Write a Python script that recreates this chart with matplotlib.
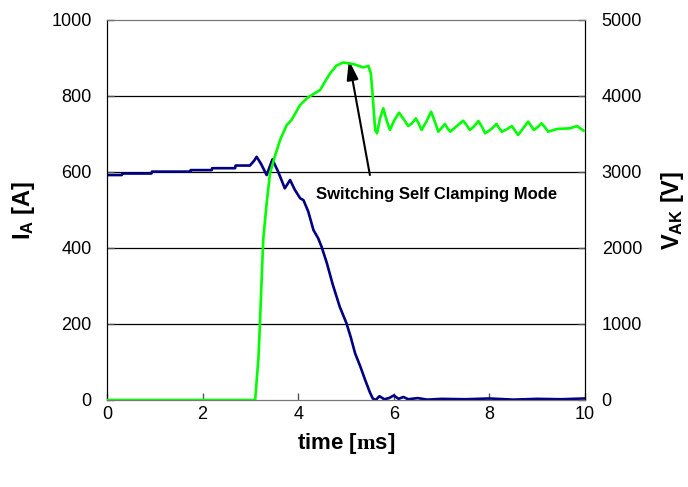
import matplotlib
matplotlib.use("Agg")
import matplotlib.pyplot as plt
import numpy as np

plt.rcParams['font.family'] = ['Liberation Sans', 'DejaVu Sans']
plt.rcParams['mathtext.fontset'] = 'custom'
plt.rcParams['mathtext.bf'] = 'Liberation Sans:bold'
plt.rcParams['mathtext.rm'] = 'Liberation Serif:bold'
plt.rcParams['mathtext.it'] = 'Liberation Sans:italic'

# Anode current I_A [A] (left axis)
t_i = [0.0, 0.31, 0.32, 0.93, 0.94, 1.74, 1.75, 2.19, 2.20, 2.68, 2.69, 2.99,
       3.08, 3.13, 3.22, 3.34, 3.46, 3.58, 3.72, 3.83, 3.93, 4.04, 4.11, 4.21,
       4.32, 4.42, 4.49, 4.60, 4.72, 4.87, 5.01, 5.10, 5.19, 5.30, 5.40, 5.50,
       5.56, 5.62, 5.70, 5.80, 5.90, 6.00, 6.10, 6.20, 6.30, 6.50, 6.70, 7.00,
       7.50, 8.00, 8.50, 9.00, 9.50, 10.0]
i_a = [592, 592, 596, 596, 601, 601, 605, 605, 610, 610, 617, 617,
       630, 640, 622, 592, 633, 601, 557, 579, 553, 531, 526, 496,
       447, 425, 403, 360, 305, 245, 202, 165, 123, 88, 53, 20,
       4, 0, 10, 2, 5, 12, 3, 8, 2, 5, 1, 3,
       2, 4, 1, 3, 2, 4]

# Anode-cathode voltage V_AK [V] (right axis)
t_v = [0.0, 3.10, 3.17, 3.20, 3.24, 3.27, 3.34, 3.41, 3.51, 3.62, 3.76, 3.86,
       4.04, 4.20, 4.46, 4.57, 4.67, 4.80, 4.94, 5.05, 5.15, 5.25, 5.36, 5.47,
       5.52, 5.56, 5.61, 5.65, 5.71, 5.78, 5.85, 5.92, 6.01, 6.11, 6.20, 6.30,
       6.38, 6.46, 6.52, 6.58, 6.68, 6.78, 6.86, 6.93, 7.00, 7.07, 7.12, 7.18,
       7.31, 7.45, 7.52, 7.59, 7.68, 7.77, 7.84, 7.91, 8.03, 8.15, 8.20, 8.26,
       8.36, 8.47, 8.53, 8.60, 8.70, 8.81, 8.87, 8.93, 9.01, 9.09, 9.16, 9.23,
       9.41, 9.69, 9.83, 9.97]
v_ak = [0, 0, 570, 1009, 1667, 2127, 2588, 2983, 3201, 3421, 3618, 3684,
        3882, 3980, 4079, 4200, 4300, 4400, 4441, 4430, 4421, 4400, 4377, 4395,
        4298, 3991, 3553, 3509, 3700, 3838, 3680, 3553, 3680, 3780, 3700, 3605,
        3640, 3706, 3640, 3553, 3660, 3794, 3660, 3530, 3580, 3632, 3580, 3530,
        3600, 3675, 3620, 3553, 3600, 3671, 3600, 3509, 3560, 3632, 3580, 3530,
        3560, 3605, 3550, 3487, 3570, 3662, 3610, 3553, 3590, 3641, 3590, 3530,
        3566, 3575, 3605, 3544]

x_ticks = [0, 2, 4, 6, 8, 10]
yl_ticks = [0, 200, 400, 600, 800, 1000]
yr_ticks = [0, 1000, 2000, 3000, 4000, 5000]

fig = plt.figure(figsize=(6.88, 4.87), dpi=100)
ax = fig.add_axes([107/688, 1-400/487, (585-107)/688, 380/487])
ax2 = ax.twinx()

ax.plot(t_i, i_a, color='#000080', lw=1.9, zorder=3)
ax2.plot(t_v, v_ak, color='#00FF00', lw=1.9, zorder=3)

ax.set_xlim(0, 10)
ax.set_ylim(0, 1000)
ax2.set_ylim(0, 5000)
ax.set_xticks(x_ticks)
ax.set_yticks(yl_ticks)
ax2.set_yticks(yr_ticks)
for a in (ax, ax2):
    a.tick_params(labelsize=13, direction='in', length=5, width=1, color='#555555')
ax.tick_params(axis='x', pad=4)
ax.tick_params(axis='y', pad=11)
ax2.tick_params(axis='y', pad=12)

for y in yl_ticks[1:-1]:
    ax.axhline(y, color='black', lw=0.9, zorder=1)

for a in (ax, ax2):
    a.spines['top'].set_color('#777777')
    a.spines['bottom'].set_color('#777777')
    a.spines['left'].set_color('black')
    a.spines['right'].set_color('black')

ax.set_xlabel(r'$\mathbf{time\ [}\mathrm{m}\mathbf{s]}$', fontsize=16, labelpad=6)
ax.set_ylabel(r'$\mathbf{I}_{\mathbf{A}}\ \mathbf{[A]}$', fontsize=17, labelpad=10)
ax2.set_ylabel(r'$\mathbf{V}_{\mathbf{AK}}\ \mathbf{[V]}$', fontsize=17, labelpad=12)

ax.annotate('', xy=(5.06, 895), xytext=(5.50, 592),
            arrowprops=dict(arrowstyle='-|>,head_width=0.35,head_length=1.2',
                            color='black', lw=1.5, shrinkA=0, shrinkB=0),
            zorder=5)
ax.text(6.9, 542, 'Switching Self Clamping Mode', fontsize=12, fontweight='bold',
        ha='center', va='center', zorder=5)

fig.savefig('out.png', dpi=100)
